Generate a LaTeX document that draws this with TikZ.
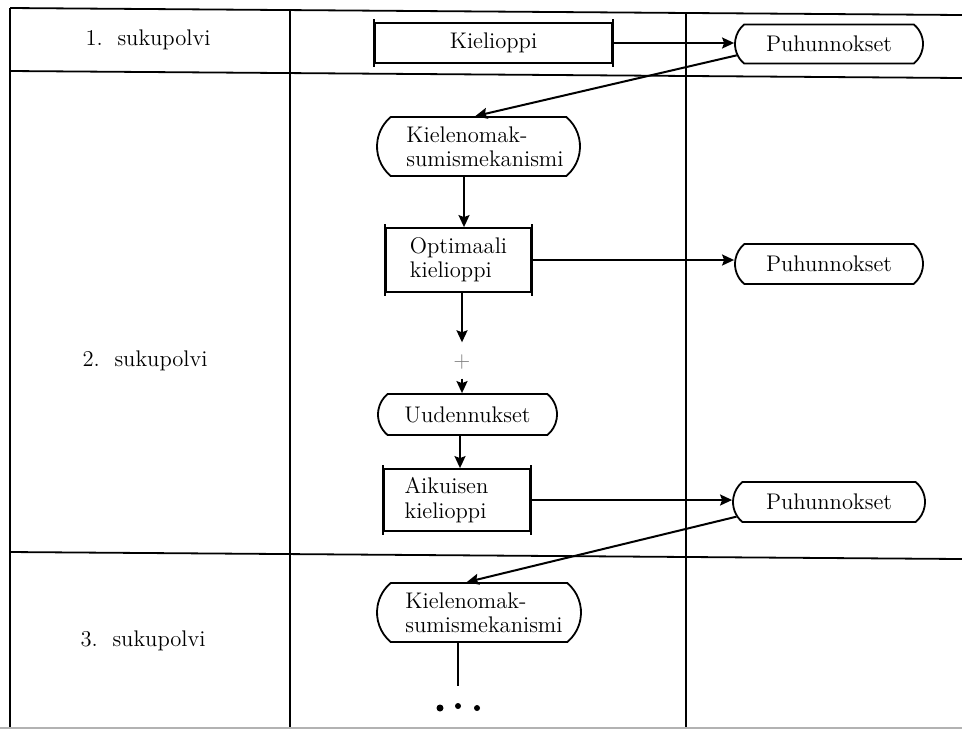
\documentclass[tikz,border=0pt]{standalone}
\usetikzlibrary{shapes.misc,arrows.meta,calc}
\begin{document}
\begin{tikzpicture}[x=0.5pt,y=-0.5pt,
  every node/.style={font=\fontsize{11.3}{12.2}\selectfont},
  ln/.style={line width=0.9pt},
  arr/.style={line width=1pt,-{Stealth[length=6pt,width=5.5pt,inset=1pt]}},
  proc/.style={draw,line width=0.9pt,rectangle,align=left,inner sep=0pt},
  term/.style={draw,line width=0.9pt,rounded rectangle,rounded rectangle arc length=100,align=left,inner sep=0pt},
  dotnode/.style={circle,fill,inner sep=0pt},
  bar/.style={line width=1.1pt}]
\useasboundingbox (0,0) rectangle (962,730);
% table frame
\draw[ln] (10,8) -- (962,15);
\draw[ln] (10,71) -- (962,78);
\draw[ln] (10,552) -- (962,559);
\draw[ln] (10,8) -- (10,728);
\draw[ln] (290,9) -- (290,728);
\draw[ln] (686,12) -- (686,728);
\draw[gray!60,line width=0.6pt] (0,728) -- (962,728);
% row labels
\node (g1) at (148,40) {1.~~sukupolvi};
\node (g2) at (145,361) {2.~~sukupolvi};
\node (g3) at (143,641) {3.~~sukupolvi};
% nodes
\node[proc,minimum width=118.5pt,minimum height=20pt] (kiel) at (493.5,43) {Kielioppi};
\node[term,minimum width=94pt,minimum height=19.5pt] (p1) at (829,44) {Puhunnokset};
\node[term,minimum width=101.5pt,minimum height=29.5pt] (k2) at (478.5,146.5) {\hspace*{6.5pt}Kielenomak-\\\hspace*{6.5pt}sumismekanismi};
\node[proc,minimum width=72.5pt,minimum height=32pt] (opt) at (458.5,260) {Optimaali\\kielioppi};
\node[term,minimum width=94pt,minimum height=20pt] (p2) at (829,264) {Puhunnokset};
\node[text=gray,inner sep=0pt] (plus) at (462,362) {$+$};
\node[term,minimum width=89.5pt,minimum height=20.5pt] (uud) at (467.5,414.5) {Uudennukset};
\node[proc,minimum width=73pt,minimum height=31pt] (aik) at (457,500) {Aikuisen\hspace*{10.5pt}\\kielioppi\hspace*{10.5pt}};
\node[term,minimum width=96pt,minimum height=20pt] (p3) at (829,502) {Puhunnokset};
\node[term,minimum width=102pt,minimum height=29.5pt] (k3) at (479,612.5) {\hspace*{5pt}Kielenomak-\\\hspace*{5pt}sumismekanismi};
\node[dotnode,minimum size=3.5pt] (d1) at (440,708) {};
\node[dotnode,minimum size=3pt] (d2) at (458,706) {};
\node[dotnode,minimum size=3pt] (d3) at (477,708) {};
\coordinate (k3end) at (458,686);
% side bars of process boxes
\foreach \n in {kiel,opt,aik}{
  \draw[bar] ([yshift=1.5pt]\n.north west) -- ([yshift=-1.5pt]\n.south west);
  \draw[bar] ([yshift=1.5pt]\n.north east) -- ([yshift=-1.5pt]\n.south east);
}
% connectors
\draw[arr] (kiel.east) -- (kiel.east -| p1.west);
\draw[arr] (p1.187) -- (k2.96);
\draw[arr] ([xshift=-7.25pt]k2.south) -- ([xshift=-7.25pt]k2.south |- opt.north);
\draw[arr,shorten >=6pt] (opt.south -| plus) -- (plus.north);
\draw[arr,shorten <=4.5pt] (plus.south) -- (plus |- uud.north);
\draw[arr] ([xshift=-3.75pt]uud.south) -- ([xshift=-3.75pt]uud.south |- aik.north);
\draw[arr] (opt.east) -- (opt.east -| p2.west);
\draw[arr] (aik.east) -- (aik.east -| p3.west);
\draw[arr] (p3.189) -- (k3.112);
\draw[ln] (k3.south -| k3end) -- (k3end);
\end{tikzpicture}
\end{document}
